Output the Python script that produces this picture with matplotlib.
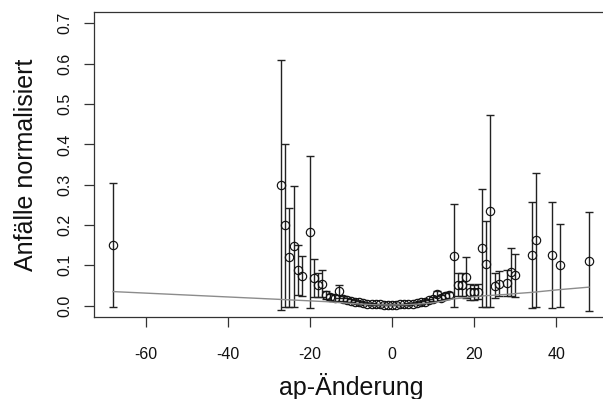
import matplotlib
matplotlib.use("Agg")
import matplotlib.pyplot as plt

plt.rcParams['font.family'] = ['Liberation Sans', 'DejaVu Sans']

# ap change values (x), normalised seizure rate (y), error half-width, fitted curve
ap_change = [-68, -27, -26, -25, -24, -23, -22, -20, -19, -18, -17,
             -16, -15, -14, -13, -12, -11, -10, -9, -8, -7, -6, -5, -4, -3, -2, -1,
             0, 1, 2, 3, 4, 5, 6, 7, 8, 9, 10, 11, 12, 13, 14,
             15, 16, 17, 18, 19, 20, 21, 22, 23, 24, 25, 26, 28, 29, 30,
             34, 35, 39, 41, 48]

rate = [0.151, 0.299, 0.199, 0.120, 0.147, 0.088, 0.073, 0.183, 0.069, 0.052, 0.055,
        0.027, 0.021, 0.019, 0.036, 0.017, 0.015, 0.012, 0.010, 0.008, 0.007, 0.005,
        0.004, 0.003, 0.003, 0.002, 0.002,
        0.002, 0.002, 0.003, 0.003, 0.004, 0.005, 0.006, 0.008, 0.010, 0.013, 0.016,
        0.030, 0.020, 0.024, 0.027,
        0.124, 0.052, 0.052, 0.070, 0.034, 0.033, 0.035, 0.143, 0.104, 0.234, 0.050,
        0.055, 0.057, 0.083, 0.075,
        0.125, 0.164, 0.125, 0.100, 0.110]

err = [0.154, 0.309, 0.202, 0.122, 0.149, 0.062, 0.049, 0.188, 0.048, 0.030, 0.033,
       0.010, 0.008, 0.008, 0.016, 0.006, 0.005, 0.004, 0.004, 0.003, 0.003, 0.002,
       0.002, 0.002, 0.001, 0.001, 0.001,
       0.001, 0.001, 0.001, 0.002, 0.002, 0.002, 0.003, 0.003, 0.004, 0.004, 0.005,
       0.007, 0.006, 0.007, 0.008,
       0.127, 0.029, 0.029, 0.050, 0.020, 0.019, 0.018, 0.147, 0.106, 0.238, 0.031,
       0.030, 0.032, 0.060, 0.054,
       0.131, 0.166, 0.131, 0.103, 0.122]

fit = [0.035, 0.0155, 0.0150, 0.0145, 0.0140, 0.0135, 0.0130, 0.0120, 0.0115, 0.0110, 0.0105,
       0.0100, 0.0092, 0.0085, 0.0078, 0.0071, 0.0064, 0.0057, 0.0050, 0.0044, 0.0038, 0.0033,
       0.0028, 0.0024, 0.0021, 0.0019, 0.0018,
       0.0018, 0.0019, 0.0021, 0.0024, 0.0028, 0.0033, 0.0039, 0.0046, 0.0054, 0.0063, 0.0073,
       0.0090, 0.0110, 0.0130, 0.0150,
       0.0170, 0.0180, 0.0190, 0.0200, 0.0210, 0.0220, 0.0230, 0.0240, 0.0250, 0.0255, 0.0260,
       0.0270, 0.0280, 0.0290, 0.0300,
       0.0330, 0.0340, 0.0380, 0.0400, 0.0460]

x_ticks = [-60, -40, -20, 0, 20, 40]
y_ticks = [0.0, 0.1, 0.2, 0.3, 0.4, 0.5, 0.6, 0.7]

fig = plt.figure(figsize=(6.03, 3.99), dpi=100)
ax = fig.add_axes([94 / 603, (399 - 317) / 399, (608 - 94) / 603, (317 - 12) / 399])

ax.errorbar(ap_change, rate, yerr=err, fmt='none', ecolor='#222222',
            elinewidth=1.0, capsize=3.2, capthick=1.0, zorder=2)
ax.plot(ap_change, rate, linestyle='none', marker='o', markersize=6.0,
        markerfacecolor='none', markeredgecolor='#111111', markeredgewidth=0.85, zorder=3)
ax.plot(ap_change, fit, color='#8c8c8c', linewidth=1.0, zorder=4)

ax.set_xlim(-72.64, 52.64)
ax.set_ylim(-0.028, 0.728)
ax.set_xticks(x_ticks)
ax.set_xticklabels([str(v) for v in x_ticks])
ax.set_yticks(y_ticks)
ax.set_yticklabels([f"{v:.1f}" for v in y_ticks], rotation=90, va='center')

for s in ax.spines.values():
    s.set_color('#333333')
    s.set_linewidth(0.9)
ax.tick_params(axis='both', direction='out', length=7.5, width=0.9, color='#333333',
               labelsize=11.5, labelcolor='#111111')
ax.tick_params(axis='x', pad=14)
ax.tick_params(axis='y', pad=8)

ax.set_xlabel('ap-Änderung', fontsize=18, labelpad=8, color='#111111')
ax.set_ylabel('Anfälle normalisiert', fontsize=18, labelpad=14, color='#111111')

fig.savefig('out.png', dpi=100)
